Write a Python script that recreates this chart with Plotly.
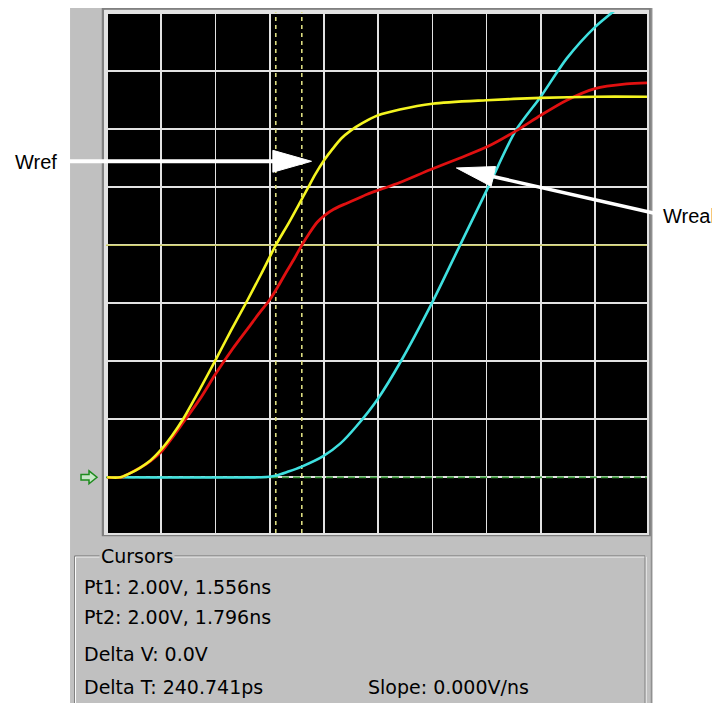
import plotly.graph_objects as go

# ---------------- data (time in ns, voltage in V) ----------------
time_wref = [0, 0.12, 0.2, 0.3, 0.4, 0.5, 0.6, 0.7, 0.85, 1.0, 1.14, 1.28, 1.42, 1.556, 1.68,
             1.78, 1.85, 1.92, 2.0, 2.08, 2.16, 2.25, 2.35, 2.50, 2.70, 3.0, 3.5, 4.0, 4.5, 4.98]
volt_wref = [0, 0, 0.03, 0.08, 0.145, 0.24, 0.36, 0.50, 0.75, 1.01, 1.26, 1.50, 1.75, 2.0, 2.2,
             2.37, 2.49, 2.61, 2.73, 2.83, 2.92, 2.99, 3.05, 3.12, 3.17, 3.22, 3.25, 3.27, 3.28, 3.28]

time_wreal = [0, 0.13, 0.2, 0.3, 0.4, 0.5, 0.6, 0.7, 0.86, 1.0, 1.16, 1.32, 1.40, 1.50, 1.58,
              1.66, 1.73, 1.796, 1.87, 1.94, 2.01, 2.09, 2.18, 2.28, 2.40, 2.52, 2.70, 2.98,
              3.25, 3.51, 3.78, 4.0, 4.24, 4.5, 4.79, 4.98]
volt_wreal = [0, 0, 0.03, 0.08, 0.14, 0.22, 0.34, 0.47, 0.68, 0.89, 1.11, 1.31, 1.41, 1.53, 1.65,
              1.78, 1.89, 2.0, 2.11, 2.20, 2.26, 2.31, 2.35, 2.39, 2.44, 2.48, 2.54, 2.65,
              2.75, 2.85, 2.99, 3.12, 3.25, 3.35, 3.39, 3.40]

time_far = [0, 1.42, 1.50, 1.58, 1.66, 1.79, 1.99, 2.15, 2.30, 2.50, 2.71, 2.99, 3.25, 3.51,
            3.77, 4.0, 4.24, 4.5, 4.72]
volt_far = [0, 0, 0.005, 0.02, 0.045, 0.09, 0.18, 0.29, 0.44, 0.68, 1.0, 1.49, 1.99, 2.49,
            2.99, 3.28, 3.61, 3.88, 4.05]

cursor_times = [1.556, 1.796]
cursor_level = 2.00
ground_level = 0.0
time_range = [-0.01, 4.98]
volt_range = [-0.48, 4.01]
grid_step = 0.5

cursor_lines = ["Pt1: 2.00V, 1.556ns", "Pt2: 2.00V, 1.796ns", "Delta V: 0.0V", "Delta T: 240.741ps"]
slope_text = "Slope: 0.000V/ns"
panel_title = "Cursors"
label_ref = "Wref"
label_real = "Wreal"

# ---------------- layout geometry (page pixels) ----------------
PAGE_W, PAGE_H = 720, 703
BODY = 8                      # default page margin around the figure
W, H = PAGE_W - BODY, PAGE_H - BODY
PL, PR, PT, PB = 106, 647.5, 10, 533.5


def X(px):
    return (px - PL) / (PR - PL)


def Y(py):
    return (PB - py) / (PB - PT)


fig = go.Figure()

# cursors & reference lines
for t in cursor_times:
    fig.add_trace(go.Scatter(x=[t, t], y=volt_range, mode="lines",
                             line=dict(color="#dcdc80", width=1.6, dash="4px,4px"),
                             hoverinfo="skip"))
fig.add_trace(go.Scatter(x=time_range, y=[cursor_level, cursor_level], mode="lines",
                         line=dict(color="#cccc66", width=1.6), hoverinfo="skip"))
fig.add_trace(go.Scatter(x=time_range, y=[ground_level, ground_level], mode="lines",
                         line=dict(color="#3c9c3c", width=1.8, dash="7px,4px"), hoverinfo="skip"))

# waveforms
fig.add_trace(go.Scatter(x=time_far, y=volt_far, mode="lines",
                         line=dict(color="#3fe0e0", width=2.6, shape="spline", smoothing=0.8)))
fig.add_trace(go.Scatter(x=time_wreal, y=volt_wreal, mode="lines",
                         line=dict(color="#e01010", width=2.8, shape="spline", smoothing=0.8)))
fig.add_trace(go.Scatter(x=time_wref, y=volt_wref, mode="lines",
                         line=dict(color="#f4f420", width=2.6, shape="spline", smoothing=0.8)))

shapes = [
    # gray window panel
    dict(type="rect", xref="paper", yref="paper", x0=X(70), x1=X(653), y0=Y(5), y1=Y(712),
         fillcolor="#c0c0c0", line=dict(width=0), layer="below"),
    # black screen
    dict(type="rect", xref="paper", yref="paper", x0=0, x1=1, y0=0, y1=1,
         fillcolor="#000000", line=dict(width=0), layer="below"),
    # screen frame
    dict(type="rect", xref="paper", yref="paper", x0=X(103), x1=X(650.5), y0=Y(6.5), y1=Y(535.5),
         line=dict(color="#808080", width=2.5), layer="below"),
    # right edge of panel
    dict(type="line", xref="paper", yref="paper", x0=X(652), x1=X(652), y0=Y(5), y1=Y(712),
         line=dict(color="#909090", width=1.5), layer="below"),
    # group box (etched)
    dict(type="rect", xref="paper", yref="paper", x0=X(75.5), x1=X(646.5), y0=Y(557.5), y1=Y(720),
         line=dict(color="#ffffff", width=1), layer="below"),
    dict(type="rect", xref="paper", yref="paper", x0=X(74.5), x1=X(645.5), y0=Y(556.5), y1=Y(720),
         line=dict(color="#808080", width=1), layer="below"),
    # Wref arrow
    dict(type="line", xref="paper", yref="paper", x0=X(68), x1=X(276), y0=Y(160), y1=Y(160),
         line=dict(color="#ffffff", width=4)),
    dict(type="path", xref="paper", yref="paper",
         path=f"M{X(273)},{Y(149)} L{X(311.7)},{Y(160)} L{X(273)},{Y(171)} Z",
         fillcolor="#ffffff", line=dict(color="#ffffff", width=1)),
    # Wreal arrow
    dict(type="line", xref="paper", yref="paper", x0=X(491), x1=X(656), y0=Y(174.8), y1=Y(212.5),
         line=dict(color="#ffffff", width=3.5)),
    dict(type="path", xref="paper", yref="paper",
         path=f"M{X(495.9)},{Y(165.3)} L{X(456.7)},{Y(166.7)} L{X(491.5)},{Y(185.1)} Z",
         fillcolor="#ffffff", line=dict(color="#ffffff", width=1)),
    # ground marker arrow
    dict(type="path", xref="paper", yref="paper",
         path=(f"M{X(81)},{Y(474.8)} L{X(89)},{Y(474.8)} L{X(89)},{Y(471)} L{X(97)},{Y(477.5)} "
               f"L{X(89)},{Y(484)} L{X(89)},{Y(480.2)} L{X(81)},{Y(480.2)} Z"),
         fillcolor="#c8e6c8", line=dict(color="#1e8c1e", width=1.5)),
]

annotations = [
    dict(text=label_ref, x=X(35.5), y=Y(161), xref="paper", yref="paper", showarrow=False,
         font=dict(family="Liberation Sans", size=20, color="#000000"), xanchor="center", yanchor="middle"),
    dict(text=label_real, x=X(690), y=Y(215), xref="paper", yref="paper", showarrow=False,
         font=dict(family="Liberation Sans", size=20, color="#000000"), xanchor="center", yanchor="middle"),
    dict(text=panel_title, x=X(99), y=Y(557), xref="paper", yref="paper", showarrow=False,
         font=dict(family="DejaVu Sans", size=19, color="#000000"), xanchor="left", yanchor="middle",
         bgcolor="#c0c0c0", borderpad=1),
]
line_y = [588, 618, 655, 688]
for txt, yy in zip(cursor_lines, line_y):
    annotations.append(dict(text=txt, x=X(82), y=Y(yy), xref="paper", yref="paper", showarrow=False,
                            font=dict(family="DejaVu Sans", size=19, color="#000000"),
                            xanchor="left", yanchor="middle"))
annotations.append(dict(text=slope_text, x=X(366), y=Y(688), xref="paper", yref="paper", showarrow=False,
                        font=dict(family="DejaVu Sans", size=19, color="#000000"),
                        xanchor="left", yanchor="middle"))

axis_common = dict(showgrid=True, gridcolor="#e2e2e2", gridwidth=1.6, dtick=grid_step, tick0=0,
                   showticklabels=False, ticks="", zeroline=False, showline=True, mirror=True,
                   linecolor="#e2e2e2", linewidth=2, fixedrange=True)

fig.update_layout(
    width=W, height=H, autosize=False,
    margin=dict(l=PL - BODY, r=PAGE_W - PR, t=PT - BODY, b=PAGE_H - PB, pad=0),
    paper_bgcolor="#ffffff", plot_bgcolor="#000000",
    showlegend=False,
    xaxis=dict(range=time_range, **axis_common),
    yaxis=dict(range=volt_range, **axis_common),
    shapes=shapes, annotations=annotations,
)

fig.write_html("out.html", config={"displayModeBar": False, "staticPlot": True})
